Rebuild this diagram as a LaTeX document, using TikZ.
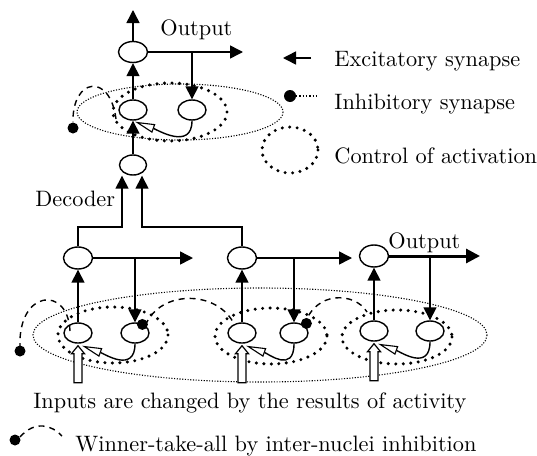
\documentclass[tikz,border=0pt]{standalone}
\usetikzlibrary{arrows.meta,calc,shapes.geometric}
\begin{document}
\begin{tikzpicture}[x=1pt,y=-1pt,
  neuron/.style={draw, ellipse, line width=1.4pt, minimum width=29pt, minimum height=21pt, inner sep=0pt, fill=white},
  small/.style={neuron, minimum width=28pt, minimum height=20pt},
  exc/.style={line width=1.5pt, -{Triangle[length=13pt,width=13pt]}},
  thick out/.style={line width=3pt, -{Triangle[length=14pt,width=14pt]}},
  rec/.style={line width=1.4pt, -{Triangle[length=20pt,width=9pt,fill=white,line width=1.1pt]}},
  wta/.style={line width=1.4pt, dash pattern=on 6pt off 5pt},
  thindot/.style={line width=1.1pt, dash pattern=on 1.1pt off 1.6pt},
  bolddot/.style={line width=3.4pt, line cap=round, dash pattern=on 0pt off 7.5pt},
  inh/.style={fill=black},
  inarrow/.style={line width=1.2pt, fill=white},
  txt/.style={scale=2.23, inner sep=0pt, anchor=base west}
]
\useasboundingbox (0,0) rectangle (537,455);

% ---------- background ellipses ----------
\draw[thindot] (180,112) ellipse [x radius=103, y radius=28];
\draw[bolddot] (170,112) ellipse [x radius=57, y radius=29];
\draw[thindot] (260,335) ellipse [x radius=227, y radius=47];
\draw[bolddot] (113,335) ellipse [x radius=55, y radius=28];
\draw[bolddot] (271,336) ellipse [x radius=56, y radius=28];
\draw[bolddot] (397,337) ellipse [x radius=55, y radius=27];

% ---------- neurons ----------
\node[neuron] (out0) at (133,52) {};
\node[small] (t1) at (133,110) {};
\node[small] (t2) at (192,110) {};
\node[neuron, minimum width=27pt, minimum height=20pt] (dec) at (133,165) {};
\node[neuron, minimum height=22pt] (n1) at (78,258) {};
\node[neuron, minimum height=22pt] (n2) at (242,258) {};
\node[neuron, minimum height=22pt] (n3) at (374,256) {};
\node[small] (a1) at (78,333) {};
\node[small] (b1) at (135,333) {};
\node[small] (a2) at (242,333) {};
\node[small] (b2) at (294,333) {};
\node[small] (a3) at (374,331) {};
\node[small] (b3) at (430,331) {};

% ---------- coordinates ----------
\coordinate (top) at (133,10);
\coordinate (oend) at (243,52);
\coordinate (d1) at (122,227);
\coordinate (d2) at (142,227);
\coordinate (e1) at (193,258);
\coordinate (e2) at (352,258);
\coordinate (e3) at (480,256);

% ---------- top part ----------
\draw[exc] (out0.north) -- (top);
\draw[exc] (out0.east) -- (oend);
\draw[exc] (out0.east -| t2.north) -- (t2.north);
\draw[exc] (t1.north) -- (out0.south);
\draw[exc] (dec.north) -- (t1.south);
\draw[rec] (t2.south) .. controls +(0,30) and +(22,8) .. ($(t1.south)+(2,1)$);

% ---------- decoder inputs ----------
\draw[exc] (n1.north) |- (d1) -- (d1 |- dec.south);
\draw[exc] (n2.north) |- (d2) -- (d2 |- dec.south);

% ---------- lower part ----------
\draw[exc] (n1.east) -- (e1);
\draw[exc] (n1.east -| b1.north) -- (b1.north);
\draw[exc] (n2.east) -- (e2);
\draw[exc] (n2.east -| b2.north) -- (b2.north);
\draw[thick out] (n3.east) -- (e3);
\draw[exc] (n3.east -| b3.north) -- (b3.north);
\draw[exc] (a1.north) -- (n1.south);
\draw[exc] (a2.north) -- (n2.south);
\draw[exc] (a3.north) -- (n3.south);
\draw[rec] (b1.south) .. controls +(0,30) and +(22,8) .. ($(a1.south)+(4,2)$);
\draw[rec] (b2.south) .. controls +(0,30) and +(22,8) .. ($(a2.south)+(4,2)$);
\draw[rec] (b3.south) .. controls +(0,30) and +(22,8) .. ($(a3.south)+(4,2)$);

% ---------- input arrows ----------
\foreach \n in {a1,a2,a3}{
  \draw[inarrow] ($(\n.south)+(0,2)$) -- ++(6.5,8) -- ++(-2.5,0) -- ++(0,29) -- ++(-8,0) -- ++(0,-29) -- ++(-2.5,0) -- cycle;
}

% ---------- winner-take-all arcs ----------
\draw[wta] (116,119) .. controls (110,72) and (72,78) .. (73,122);
\fill[inh] (73,128) circle (5.5);
\draw[wta] (70,331) .. controls (68,285) and (18,290) .. (20,346);
\fill[inh] (20,351) circle (5.5);
\draw[wta] (b1.north east) .. controls (160,290) and (215,290) .. (233,322);
\fill[inh] ($(b1.north east)+(-3,-1)$) circle (5.5);
\draw[wta] (b2.north east) .. controls (315,290) and (355,292) .. (367,312);
\fill[inh] ($(b2.north east)+(2,-2)$) circle (5.5);

% ---------- labels ----------
\node[txt] (lout1) at (160,35) {Output};
\node[txt] (lout2) at (388,248) {Output};
\node[txt] (ldec) at (35,206) {Decoder};
\node[txt] (linp) at (33,408) {Inputs are changed by the results of activity};
\node[txt] (lwta) at (75,451) {Winner-take-all by inter-nuclei inhibition};

% ---------- legend ----------
\coordinate (lx1) at (311,58);
\coordinate (lx2) at (283,58);
\draw[exc] (lx1) -- (lx2);
\node[txt] (lexc) at (334,66) {Excitatory synapse};
\fill[inh] (290,96) circle (6);
\coordinate (li1) at (296,96);
\coordinate (li2) at (318,96);
\draw[line width=1.3pt, dash pattern=on 1.3pt off 2pt] (li1) -- (li2);
\node[txt] (linh) at (334,109) {Inhibitory synapse};
\draw[bolddot] (290,150) ellipse [x radius=28, y radius=23];
\node[txt] (lctl) at (334,163) {Control of activation};
\fill[inh] (15,440) circle (5.5);
\draw[wta] (20,437) .. controls (35,420) and (52,425) .. (62,436);
\end{tikzpicture}
\end{document}
